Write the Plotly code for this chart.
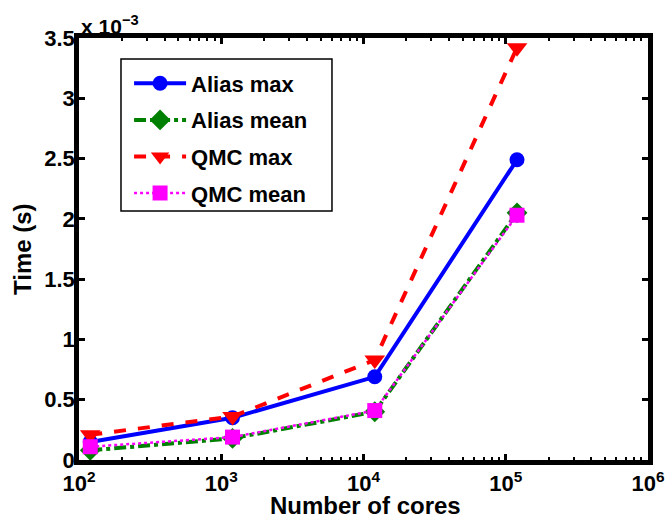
import plotly.graph_objects as go

cores = [120, 1200, 12000, 120000]
alias_max = [0.15, 0.35, 0.69, 2.49]
alias_mean = [0.08, 0.18, 0.40, 2.05]
qmc_max = [0.21, 0.36, 0.83, 3.42]
qmc_mean = [0.11, 0.19, 0.41, 2.03]

x_tickvals = [1e2, 1e3, 1e4, 1e5, 1e6]
x_ticktext = ["10<sup>2</sup>", "10<sup>3</sup>", "10<sup>4</sup>", "10<sup>5</sup>", "10<sup>6</sup>"]
y_tickvals = [0, 0.5, 1, 1.5, 2, 2.5, 3, 3.5]
y_ticktext = ["0", "0.5", "1", "1.5", "2", "2.5", "3", "3.5"]

fig = go.Figure()
fig.add_trace(go.Scatter(x=cores, y=alias_max, name="Alias max", mode="lines+markers",
                         line=dict(color="#0000ff", width=4, dash="solid"),
                         marker=dict(symbol="circle", size=15, color="#0000ff"),
                         legendgroup="a"))
fig.add_trace(go.Scatter(x=cores, y=alias_mean, name="Alias mean", mode="lines+markers",
                         line=dict(color="#008000", width=4, dash="dashdot"),
                         marker=dict(symbol="diamond", size=16, color="#008000"),
                         legendgroup="b"))
fig.add_trace(go.Scatter(x=cores, y=qmc_max, name="QMC max", mode="lines+markers",
                         line=dict(color="#ff0000", width=4, dash="dash"),
                         marker=dict(symbol="triangle-down", size=18, color="#ff0000"),
                         legendgroup="c"))
fig.add_trace(go.Scatter(x=cores, y=qmc_mean, name="QMC mean", mode="lines+markers",
                         line=dict(color="#ff00ff", width=2.5, dash="dot"),
                         marker=dict(symbol="square", size=15, color="#ff00ff"),
                         legendgroup="d"))

font_bold = "Liberation Sans"
fig.update_layout(
    width=665, height=518,
    margin=dict(l=79, r=17, t=38, b=58, autoexpand=False),
    paper_bgcolor="white", plot_bgcolor="white",
    font=dict(family=font_bold, color="black", weight="bold"),
    showlegend=True,
    legend=dict(x=0.088, y=0.942, xanchor="left", yanchor="top",
                borderwidth=0, bgcolor="rgba(0,0,0,0)",
                font=dict(size=22, family=font_bold, weight="bold"),
                tracegroupgap=5, itemwidth=52),
    shapes=[dict(type="rect", xref="paper", yref="paper", x0=0.0738, x1=0.4446, y0=0.590, y1=0.950,
                 line=dict(color="black", width=1.5), fillcolor="white", layer="above")],
    xaxis=dict(type="log", range=[2, 6], tickvals=x_tickvals, ticktext=x_ticktext, automargin=False,
               showgrid=False, zeroline=False, showline=True, linecolor="black", linewidth=4.5,
               mirror="ticks", ticks="inside", ticklen=6, tickwidth=3, tickcolor="black",
               tickfont=dict(size=22, family=font_bold, weight="bold"),
               minor=dict(ticks="inside", ticklen=3, tickwidth=2, tickcolor="black", dtick="D1", showgrid=False)),
    yaxis=dict(range=[0, 3.5], tickvals=y_tickvals, ticktext=y_ticktext, automargin=False,
               showgrid=False, zeroline=False, showline=True, linecolor="black", linewidth=4.5,
               mirror="ticks", ticks="inside", ticklen=6, tickwidth=3, tickcolor="black",
               ticklabelstandoff=-5,
               tickfont=dict(size=22, family=font_bold, weight="bold")),
    annotations=[
        dict(text="x 10<sup>\u22123</sup>", xref="paper", yref="paper", x=0.0, y=1.0,
             xanchor="left", yanchor="bottom", showarrow=False, yshift=-2,
             font=dict(size=21, family=font_bold, weight="bold")),
        dict(text="Number of cores", xref="paper", yref="paper", x=(365 - 79) / 569, y=0,
             xanchor="center", yanchor="middle", yshift=-45, showarrow=False,
             font=dict(size=24, family=font_bold, weight="bold")),
        dict(text="Time (s)", xref="paper", yref="paper", x=0, y=0.5, textangle=-90,
             xanchor="center", yanchor="middle", xshift=-57, showarrow=False,
             font=dict(size=24, family=font_bold, weight="bold")),
    ],
)
fig.write_html("out.html")
